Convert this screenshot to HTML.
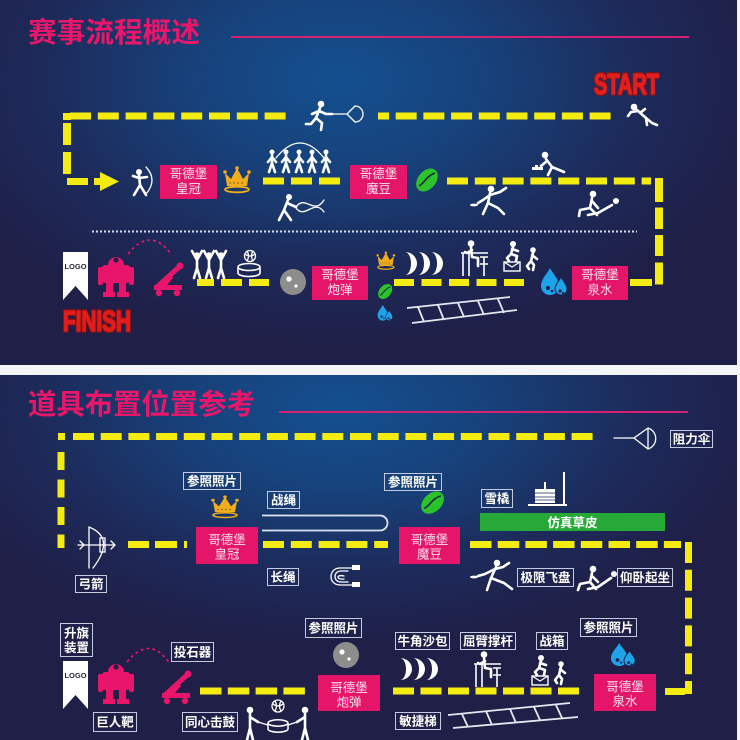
<!DOCTYPE html>
<html><head><meta charset="utf-8">
<style>
html,body{margin:0;padding:0;background:#f3f5f9;width:740px;height:740px;overflow:hidden;}
svg{display:block;}
text{font-family:"Liberation Sans","Noto Sans CJK SC",sans-serif;}
.w{stroke:#fff;stroke-width:2.6;fill:none;stroke-linecap:round;stroke-linejoin:round;}
.t{stroke:#fff;stroke-width:1.3;fill:none;stroke-linecap:round;}
.y{stroke:#f4ec10;stroke-width:7;fill:none;}
.lb{fill:none;stroke:#c3c9de;stroke-width:1;}
.lt{fill:#fff;font-size:12.5px;font-weight:bold;text-anchor:middle;}
.pk{fill:#e51669;}
.pt{fill:#fbe3ee;font-size:12.5px;text-anchor:middle;}
</style></head><body>
<svg width="740" height="740" viewBox="0 0 740 740" xmlns="http://www.w3.org/2000/svg">
<defs>
<radialGradient id="g1" gradientUnits="userSpaceOnUse" cx="340" cy="80" r="430" gradientTransform="translate(340 80) scale(1 0.62) translate(-340 -80)">
<stop offset="0" stop-color="#13508f"/>
<stop offset="0.35" stop-color="#17417a"/>
<stop offset="0.7" stop-color="#1d2a5a"/>
<stop offset="1" stop-color="#1f1f47"/>
</radialGradient>
<radialGradient id="g2" gradientUnits="userSpaceOnUse" cx="340" cy="410" r="430" gradientTransform="translate(340 410) scale(1 0.55) translate(-340 -410)">
<stop offset="0" stop-color="#13508f"/>
<stop offset="0.35" stop-color="#17417a"/>
<stop offset="0.7" stop-color="#1d2a5a"/>
<stop offset="1" stop-color="#1f1f47"/>
</radialGradient>
<g id="crown">
<path d="M1 6 L7 12 L13 1 L19 12 L25 6 L23 19 L3 19 Z" fill="#f0ae1c"/>
<circle cx="1" cy="5" r="1.8" fill="#f0ae1c"/><circle cx="13" cy="1" r="1.8" fill="#f0ae1c"/><circle cx="25" cy="5" r="1.8" fill="#f0ae1c"/>
<path d="M5 16 H21" stroke="#8a5a10" stroke-width="1" stroke-dasharray="2 2"/>
<ellipse cx="13" cy="22.5" rx="12" ry="2.8" fill="none" stroke="#f0ae1c" stroke-width="1.8"/>
</g>
<g id="bean">
<ellipse cx="11" cy="13" rx="9" ry="13" transform="rotate(40 11 13)" fill="#2bc22b"/>
<path d="M3 19 C9 16 10 9 19 6" stroke="#1c2a40" stroke-width="1.6" fill="none"/>
</g>
<g id="drops">
<path d="M10 0 C13 6 19 11 19 18 A9 9 0 0 1 1 18 C1 11 7 6 10 0 Z" fill="#1ea2e8"/>
<path d="M21 9 C23 13 27 16 27 21 A6 6 0 0 1 15 21 C15 16 19 13 21 9 Z" fill="#1ea2e8" stroke="#1f2148" stroke-width="1"/>
<circle cx="8" cy="20" r="2" fill="#1a2050"/><circle cx="12" cy="23" r="1.3" fill="#1a2050"/>
<circle cx="20" cy="23" r="1.6" fill="#1a2050"/><circle cx="23" cy="25" r="1.1" fill="#1a2050"/>
</g>
<g id="ball">
<circle cx="0" cy="0" r="13" fill="#8d8d8d"/>
<circle cx="-4" cy="-3" r="2.6" fill="#fff"/><circle cx="3" cy="4" r="1.6" fill="#fff"/>
</g>
<g id="moons" fill="#fff">
<path d="M0 0 A12 11.5 0 0 1 0 23 A6 11.5 0 0 0 0 0 Z"/>
<path d="M13 0 A12 11.5 0 0 1 13 23 A6 11.5 0 0 0 13 0 Z"/>
<path d="M26 0 A12 11.5 0 0 1 26 23 A6 11.5 0 0 0 26 0 Z"/>
</g>
<g id="robot" fill="#e8156b">
<path d="M10 12 A8 8 0 0 1 26 12 Z"/>
<circle cx="18" cy="7" r="2.6" fill="#1f2148"/>
<rect x="4" y="12" width="28" height="18" rx="3"/>
<rect x="0" y="14" width="5" height="18" rx="2"/><rect x="31" y="14" width="5" height="18" rx="2"/>
<rect x="8" y="29" width="7" height="11"/><rect x="21" y="29" width="7" height="11"/>
<rect x="5" y="39" width="12" height="5"/><rect x="19" y="39" width="12" height="5"/>
</g>
<g id="cat">
<path d="M6 24 L26 6" stroke="#e8156b" stroke-width="5" stroke-linecap="round"/>
<path d="M12 24 L20 15" stroke="#e8156b" stroke-width="3"/>
<circle cx="28" cy="4" r="3.5" fill="#e8156b"/>
<rect x="2" y="23" width="28" height="5" fill="#e8156b"/>
<circle cx="7" cy="31" r="3.2" fill="#e8156b"/><circle cx="25" cy="31" r="3.2" fill="#e8156b"/>
</g>
<g id="logo">
<path d="M0 0 H25 V48 L12.5 34 L0 48 Z" fill="#fff"/>
<text x="12.5" y="17" font-size="7.5" font-weight="bold" fill="#2a2a3a" text-anchor="middle">LOGO</text>
</g>
<g id="dip">
<circle cx="11" cy="3.5" r="3.3" fill="#fff"/>
<path class="w" d="M11 7 L12 17 L18 18 L18 26 M12 10 L7 13 L5 12"/>
<path d="M1 13 H28 M3 13 V36 M9 13 V36 M20 17 H28 M24 17 V36 M20 24 H28" stroke="#fff" stroke-width="1.6" fill="none"/>
</g>
<g id="box">
<circle cx="9" cy="3" r="3" fill="#fff"/>
<path class="w" d="M9 6 L7 13 L13 15 L12 20 M7 13 L3 17 L5 20 M8 8 L14 10"/>
<rect x="0" y="21" width="16" height="9" fill="none" stroke="#fff" stroke-width="1.4"/>
<path d="M0 21 L8 26 L16 21" stroke="#fff" stroke-width="1.2" fill="none"/>
<circle cx="29" cy="9" r="2.8" fill="#fff"/>
<path class="w" d="M29 12 L27 20 L30 24 L29 29 M27 20 L23 25 L25 28 M28 14 L33 18"/>
</g>
</defs>

<!-- panels -->
<rect x="0" y="0" width="737" height="365" fill="url(#g1)"/>
<rect x="0" y="375" width="737" height="365" fill="url(#g2)"/>

<!-- ================= TOP PANEL ================= -->
<text x="28" y="42" font-size="28" font-weight="bold" fill="#e8176a" textLength="172" lengthAdjust="spacingAndGlyphs">赛事流程概述</text>
<rect x="231" y="36" width="458" height="2" fill="#d81f72"/>

<text x="594" y="94" font-size="29" font-weight="bold" fill="#8b1212" stroke="#8b1212" stroke-width="3.6" stroke-linejoin="round" textLength="65" lengthAdjust="spacingAndGlyphs">START</text>
<text x="594" y="94" font-size="29" font-weight="bold" fill="#e02020" stroke="#e02020" stroke-width="1.3" stroke-linejoin="round" textLength="65" lengthAdjust="spacingAndGlyphs">START</text>

<!-- dashed path -->
<line class="y" x1="70" y1="116" x2="286" y2="116" stroke-dasharray="21 6.8"/>
<line class="y" x1="378" y1="116" x2="612" y2="116" stroke-dasharray="21 6.7" stroke-dashoffset="10"/>
<rect x="63" y="113" width="8" height="7" fill="#f4ec10"/>
<line x1="67" y1="123" x2="67" y2="174" stroke="#f4ec10" stroke-width="8" stroke-dasharray="22 7"/>
<rect x="67" y="178" width="21" height="7" fill="#f4ec10"/>
<polygon points="94,178 100,178 100,172 119,181.5 100,191 100,185 94,185" fill="#f4ec10"/>
<line class="y" x1="263" y1="181" x2="341" y2="181" stroke-dasharray="21 7"/>
<line class="y" x1="447" y1="181" x2="651" y2="181" stroke-dasharray="21 6.8"/>
<line x1="659" y1="178" x2="659" y2="286" stroke="#f4ec10" stroke-width="8" stroke-dasharray="24 5.5 21.5 6 21 6.5 22"/>
<rect x="630" y="279" width="22" height="7" fill="#f4ec10"/>
<rect x="197" y="279" width="17" height="7" fill="#f4ec10"/>
<rect x="221" y="279" width="21" height="7" fill="#f4ec10"/>
<rect x="249" y="279" width="20" height="7" fill="#f4ec10"/>
<line class="y" x1="394" y1="282.5" x2="525" y2="282.5" stroke-dasharray="20 7.5"/>

<!-- dotted line -->
<line x1="92" y1="231.5" x2="637" y2="231.5" stroke="#d8dcea" stroke-width="2" stroke-dasharray="2 2"/>

<!-- parachute runner -->
<circle cx="321" cy="104" r="3.3" fill="#fff"/>
<path class="w" d="M320 108 L316 118 M316 118 L322 123 L321 130 M316 118 L311 124 L306 124 M319 111 L312 114 M319 111 L326 114 L332 114"/>
<path class="t" d="M332 114 H347 M347 114 L355 106 M347 114 L355 122 M355 106 A8 8 0 0 1 355 122"/>

<!-- start runner -->
<circle cx="634" cy="107" r="3.3" fill="#fff"/>
<path class="w" d="M637 110 L646 118 L652 123 L657 125 M646 118 L647 125 M638 111 L631 112 L628 116 M640 113 L645 109"/>

<!-- archer -->
<circle cx="139" cy="172" r="3" fill="#fff"/>
<path class="w" d="M139 175 L140 185 L134 195 M140 185 L146 195 M139 178 L147 177 M139 178 L133 176"/>
<path class="t" d="M146 167 Q158 180 146 194"/>

<!-- boxes top -->
<rect class="pk" x="160" y="165" width="57" height="34"/>
<text class="pt" x="188.5" y="178">哥德堡</text><text class="pt" x="188.5" y="193">皇冠</text>
<use href="#crown" x="224" y="167"/>

<!-- jump rope -->
<path class="t" d="M276 158 Q300 128 324 158"/>
<g>
<circle cx="272" cy="152" r="2.5" fill="#fff"/><path class="w" stroke-width="2" d="M272 155 V163 L269 172 M272 163 L275 172 M272 157 L268 162 M272 157 L276 162"/>
<circle cx="286" cy="152" r="2.5" fill="#fff"/><path class="w" stroke-width="2" d="M286 155 V163 L283 172 M286 163 L289 172 M286 157 L282 162 M286 157 L290 162"/>
<circle cx="299" cy="152" r="2.5" fill="#fff"/><path class="w" stroke-width="2" d="M299 155 V163 L296 172 M299 163 L302 172 M299 157 L295 162 M299 157 L303 162"/>
<circle cx="312" cy="152" r="2.5" fill="#fff"/><path class="w" stroke-width="2" d="M312 155 V163 L309 172 M312 163 L315 172 M312 157 L308 162 M312 157 L316 162"/>
<circle cx="326" cy="152" r="2.5" fill="#fff"/><path class="w" stroke-width="2" d="M326 155 V163 L323 172 M326 163 L329 172 M326 157 L322 162 M326 157 L330 162"/>
</g>

<!-- battle rope -->
<circle cx="289" cy="197" r="3" fill="#fff"/>
<path class="w" d="M288 200 L284 210 L279 220 M284 210 L291 220 M287 203 L296 207"/>
<path class="t" d="M296 207 C305 194 314 216 324 200 M296 208 C305 220 314 198 324 212"/>

<rect class="pk" x="350" y="165" width="57" height="34"/>
<text class="pt" x="378.5" y="178">哥德堡</text><text class="pt" x="378.5" y="193">魔豆</text>
<use href="#bean" x="416" y="167"/>

<!-- shot put -->
<circle cx="545" cy="155" r="3.3" fill="#fff"/>
<path class="w" d="M546 159 L552 167 L548 175 M552 167 L564 172 M547 161 L541 166"/>
<path d="M532 170 H543 V167 H538 V165 H535 V167 H532 Z" fill="#fff"/>

<!-- frisbee -->
<circle cx="491" cy="189" r="3.3" fill="#fff"/>
<path class="w" d="M490 193 L488 203 L483 214 M488 203 L498 208 L504 214 M490 195 L483 200 L478 203 M490 195 L500 192 L506 188"/>
<ellipse cx="474" cy="205" rx="4" ry="1.4" fill="#fff"/>

<!-- situps -->
<circle cx="593" cy="194" r="3.3" fill="#fff"/>
<path class="w" d="M592 198 L590 208 L580 210 L579 216 M590 208 L597 215 M592 201 L598 208"/>
<circle cx="616" cy="201" r="3" fill="#fff"/>
<path class="w" d="M598 213 L612 205 M598 213 L588 215"/>

<!-- bottom row top panel -->
<use href="#logo" x="63" y="252"/>
<use href="#robot" x="98" y="253"/>
<path d="M128 254 Q150 226 171 254" stroke="#e8156b" stroke-width="1.6" fill="none" stroke-dasharray="3 3"/>
<use href="#cat" x="152" y="262"/>
<text x="63" y="331" font-size="29" font-weight="bold" fill="#8b1212" stroke="#8b1212" stroke-width="3.6" stroke-linejoin="round" textLength="68" lengthAdjust="spacingAndGlyphs">FINISH</text>
<text x="63" y="331" font-size="29" font-weight="bold" fill="#e01c1c" stroke="#e01c1c" stroke-width="1.3" stroke-linejoin="round" textLength="68" lengthAdjust="spacingAndGlyphs">FINISH</text>

<!-- cheering -->
<g>
<circle cx="197" cy="255" r="2.8" fill="#fff"/><path class="w" stroke-width="2.2" d="M197 258 V268 L194 278 M197 268 L200 278 M197 260 L192 251 M197 260 L202 251"/>
<circle cx="209" cy="255" r="2.8" fill="#fff"/><path class="w" stroke-width="2.2" d="M209 258 V268 L206 278 M209 268 L212 278 M209 260 L204 251 M209 260 L214 251"/>
<circle cx="221" cy="255" r="2.8" fill="#fff"/><path class="w" stroke-width="2.2" d="M221 258 V268 L218 278 M221 268 L224 278 M221 260 L216 251 M221 260 L226 251"/>
</g>
<!-- drum -->
<circle cx="250" cy="256" r="5.5" fill="none" stroke="#fff" stroke-width="1.3"/>
<path class="t" d="M245 254 Q250 258 255 254 M247 251 Q250 256 247 261 M253 251 Q250 256 253 261"/>
<ellipse cx="249" cy="267" rx="11" ry="3.5" fill="none" stroke="#fff" stroke-width="1.6"/>
<path d="M238 267 V273 A11 3.5 0 0 0 260 273 V267" fill="none" stroke="#fff" stroke-width="1.6"/>

<use href="#ball" x="293" y="282"/>
<rect class="pk" x="312" y="266" width="56" height="34"/>
<text class="pt" x="340" y="279">哥德堡</text><text class="pt" x="340" y="294">炮弹</text>

<use href="#crown" transform="translate(377 252) scale(0.68)"/>
<use href="#bean" transform="translate(378 283) scale(0.65)"/>
<use href="#drops" transform="translate(377 305) scale(0.58)"/>
<use href="#moons" x="405" y="252"/>
<use href="#dip" x="460" y="240"/>
<use href="#box" x="504" y="241"/>
<!-- ladder -->
<path d="M407 308 L510 297 M412 323 L517 310 M418 307 L424 322 M438 305 L444 320 M458 303 L464 317 M478 301 L484 315 M498 299 L504 313" stroke="#e6e8f0" stroke-width="1.8" fill="none"/>

<use href="#drops" x="540" y="268"/>
<rect class="pk" x="572" y="266" width="56" height="34"/>
<text class="pt" x="600" y="279">哥德堡</text><text class="pt" x="600" y="294">泉水</text>

<!-- ================= BOTTOM PANEL ================= -->
<text x="28" y="414" font-size="28.4" font-weight="bold" fill="#e8176a" textLength="227" lengthAdjust="spacingAndGlyphs">道具布置位置参考</text>
<rect x="279" y="411" width="409" height="2" fill="#d81f72"/>

<rect x="58" y="433" width="7" height="7" fill="#f4ec10"/>
<line class="y" x1="73" y1="436.5" x2="594" y2="436.5" stroke-dasharray="21 6.7"/>
<line x1="61" y1="452" x2="61" y2="548" stroke="#f4ec10" stroke-width="7" stroke-dasharray="18 9.5"/>
<rect x="128" y="541" width="21" height="7" fill="#f4ec10"/>
<rect x="155" y="541" width="22" height="7" fill="#f4ec10"/>
<rect x="184" y="541" width="3" height="7" fill="#f4ec10"/>
<line class="y" x1="263" y1="544.5" x2="388" y2="544.5" stroke-dasharray="21 6.8"/>
<line class="y" x1="470" y1="544.5" x2="681" y2="544.5" stroke-dasharray="21.5 6.2"/>
<line x1="688.5" y1="542" x2="688.5" y2="694" stroke="#f4ec10" stroke-width="7" stroke-dasharray="21 6.8"/>
<rect x="665" y="688" width="20" height="7" fill="#f4ec10"/>
<line class="y" x1="200" y1="691" x2="305" y2="691" stroke-dasharray="21.5 6.3"/>
<line class="y" x1="393" y1="691" x2="580" y2="691" stroke-dasharray="21 6.5"/>

<!-- parachute -->
<path class="t" d="M614 438 H634 M634 438 L648 428 M634 438 L648 449 M648 428 A11 11 0 0 1 648 449 M648 428 V449"/>
<rect class="lb" x="670.5" y="430.5" width="42" height="17"/><text class="lt" x="691.5" y="443.5">阻力伞</text>

<!-- bow -->
<path class="t" d="M89 527 Q116 538 93 568"/>
<path class="t" d="M89 527 V568 M78 545 H115 M111 541 L115 545 L111 549 M80 541 L84 545 L80 549"/>
<rect x="100" y="538" width="5" height="14" fill="none" stroke="#fff" stroke-width="1.3"/>
<rect class="lb" x="75.5" y="575.5" width="31" height="17"/><text class="lt" x="91" y="588.5">弓箭</text>

<rect class="lb" x="183.5" y="472.5" width="57" height="17"/><text class="lt" x="212" y="485.5">参照照片</text>
<use href="#crown" transform="translate(212 496) scale(1 0.85)"/>
<rect class="pk" x="196" y="527" width="62" height="37"/>
<text class="pt" x="227" y="544" font-size="13">哥德堡</text><text class="pt" x="227" y="558.5" font-size="13">皇冠</text>

<rect class="lb" x="267.5" y="491.5" width="32" height="17"/><text class="lt" x="283.5" y="504.5">战绳</text>
<path d="M262 515.5 H380 A7.5 7.5 0 0 1 380 530.5 H262" stroke="#dfe3f0" stroke-width="1.8" fill="none"/>
<rect class="lb" x="267.5" y="568.5" width="31" height="17"/><text class="lt" x="283" y="581.5">长绳</text>
<path class="t" d="M352 568 H340 C328 568 328 585 340 585 H352 M348 571 H341 C333 571 333 582 341 582 H348 M344 576 C336 574 336 580 344 579"/>
<rect x="352" y="565" width="8" height="5" fill="#fff"/><rect x="352" y="582" width="8" height="5" fill="#fff"/>

<rect class="lb" x="384.5" y="473.5" width="57" height="17"/><text class="lt" x="413" y="486.5">参照照片</text>
<use href="#bean" transform="translate(421 490) scale(1.05 0.97)"/>
<rect class="pk" x="399" y="527" width="61" height="37"/>
<text class="pt" x="429.5" y="544" font-size="13">哥德堡</text><text class="pt" x="429.5" y="558.5" font-size="13">魔豆</text>

<!-- sled -->
<rect class="lb" x="481.5" y="489.5" width="31" height="18"/><text class="lt" x="497" y="503">雪橇</text>
<path d="M528 505 H567 M564 472 V505" stroke="#fff" stroke-width="2" fill="none"/>
<rect x="535" y="489" width="20" height="14" fill="#fff"/>
<path d="M535 493 H555 M535 497 H555 M535 500 H555" stroke="#1e2a5a" stroke-width="0.8"/>
<path d="M545 482 V489" stroke="#fff" stroke-width="2"/>
<rect x="480" y="513" width="185" height="18" fill="#27a93a"/>
<text x="572.5" y="527" font-size="12.5" font-weight="bold" fill="#fff" text-anchor="middle">仿真草皮</text>

<!-- frisbee bottom -->
<circle cx="497" cy="563" r="3.3" fill="#fff"/>
<path class="w" d="M496 567 L491 578 L487 590 M491 578 L504 583 L512 589 M495 569 L485 574 L478 576 M495 569 L503 567 L509 563"/>
<ellipse cx="474" cy="577" rx="4" ry="1.4" fill="#fff"/>
<rect class="lb" x="517.5" y="568.5" width="56" height="18"/><text class="lt" x="545.5" y="582">极限飞盘</text>

<!-- situps bottom -->
<circle cx="593" cy="569" r="3.3" fill="#fff"/>
<path class="w" d="M592 573 L590 582 L580 584 L578 590 M590 582 L596 589 M592 576 L598 582"/>
<circle cx="614" cy="574" r="3" fill="#fff"/>
<path class="w" d="M598 587 L611 578 M598 587 L588 589"/>
<rect class="lb" x="617.5" y="568.5" width="55" height="18"/><text class="lt" x="645" y="582">仰卧起坐</text>

<rect class="lb" x="580.5" y="618.5" width="56" height="18"/><text class="lt" x="608.5" y="632">参照照片</text>
<use href="#drops" transform="translate(610 643) scale(0.93 0.85)"/>
<rect class="pk" x="594" y="674" width="62" height="37"/>
<text class="pt" x="625" y="691" font-size="13">哥德堡</text><text class="pt" x="625" y="705.5" font-size="13">泉水</text>

<rect class="lb" x="395.5" y="632.5" width="54" height="17"/><text class="lt" x="422.5" y="645.5">牛角沙包</text>
<use href="#moons" transform="translate(400 658) scale(1 0.96)"/>
<rect class="lb" x="460.5" y="632.5" width="55" height="17"/><text class="lt" x="488" y="645.5">屈臂撑杆</text>
<use href="#dip" x="473" y="651"/>
<rect class="lb" x="536.5" y="632.5" width="31" height="17"/><text class="lt" x="552" y="645.5">战箱</text>
<use href="#box" x="532" y="655"/>

<rect class="lb" x="395.5" y="712.5" width="45" height="17"/><text class="lt" x="418" y="725.5">敏捷梯</text>
<path d="M448 715 L570 703 M453 728 L578 717 M462 714 L468 727 M486 711 L492 725 M510 709 L516 723 M534 707 L540 720 M556 705 L562 718" stroke="#e6e8f0" stroke-width="1.8" fill="none"/>

<rect class="lb" x="305.5" y="618.5" width="56" height="19"/><text class="lt" x="333.5" y="632.5">参照照片</text>
<use href="#ball" x="346" y="655"/>
<rect class="pk" x="318" y="675" width="62" height="36"/>
<text class="pt" x="349" y="692" font-size="13">哥德堡</text><text class="pt" x="349" y="706.5" font-size="13">炮弹</text>

<!-- left bottom group -->
<rect class="lb" x="60.5" y="623.5" width="32" height="33"/>
<text class="lt" x="76.5" y="637.5">升旗</text><text class="lt" x="76.5" y="652">装置</text>
<use href="#logo" x="63" y="661"/>
<use href="#robot" x="98" y="660"/>
<path d="M127 662 Q150 634 170 664" stroke="#e8156b" stroke-width="1.6" fill="none" stroke-dasharray="3 3"/>
<rect class="lb" x="93.5" y="712.5" width="43" height="19"/><text class="lt" x="115" y="726.5">巨人靶</text>
<rect class="lb" x="171.5" y="642.5" width="42" height="19"/><text class="lt" x="192.5" y="656.5">投石器</text>
<use href="#cat" x="160" y="670"/>
<rect class="lb" x="182.5" y="712.5" width="55" height="19"/><text class="lt" x="210" y="726.5">同心击鼓</text>

<!-- drum team -->
<circle cx="250" cy="710" r="3.3" fill="#fff"/>
<path class="w" d="M250 714 V728 L247 740 M250 728 L253 740 M250 717 L258 722"/>
<circle cx="305" cy="710" r="3.3" fill="#fff"/>
<path class="w" d="M305 714 V728 L302 740 M305 728 L308 740 M305 717 L297 722"/>
<path class="t" d="M258 722 L268 725 M297 722 L288 725"/>
<circle cx="278" cy="706" r="6" fill="none" stroke="#fff" stroke-width="1.3"/>
<path class="t" d="M273 704 Q278 708 283 704 M275 701 Q278 706 275 711 M281 701 Q278 706 281 711"/>
<ellipse cx="278" cy="723" rx="10" ry="3.2" fill="none" stroke="#fff" stroke-width="1.5"/>
<path d="M268 723 V729 A10 3.2 0 0 0 288 729 V723" fill="none" stroke="#fff" stroke-width="1.5"/>
</svg>
</body></html>
